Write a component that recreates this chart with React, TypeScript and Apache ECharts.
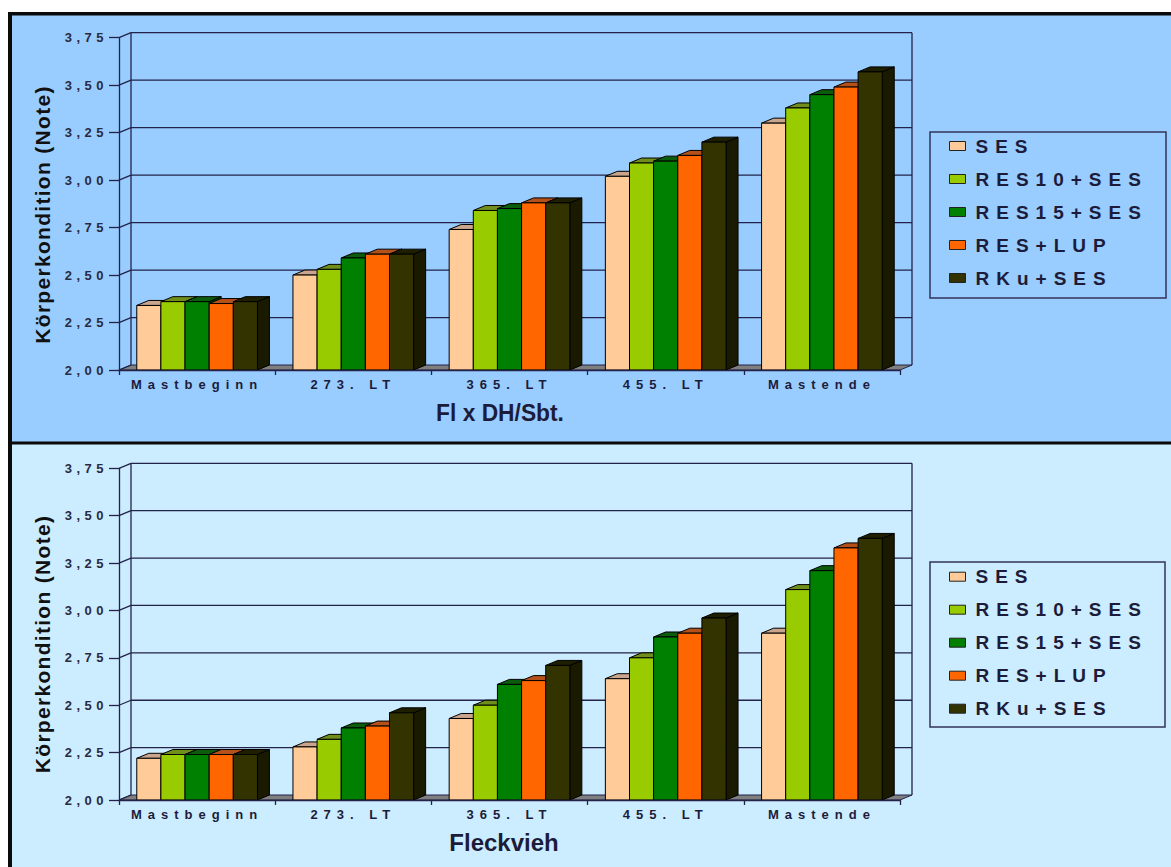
import React, { useEffect, useRef } from 'react';
import * as echarts from 'echarts';

const categories = ['Mastbeginn', '273. LT', '365. LT', '455. LT', 'Mastende'];
const seriesNames = ['SES', 'RES10+SES', 'RES15+SES', 'RES+LUP', 'RKu+SES'];
const yTicks = [2.0, 2.25, 2.5, 2.75, 3.0, 3.25, 3.5, 3.75];

// Panel 1: Fl x DH/Sbt.
const flxSES = [2.34, 2.50, 2.74, 3.02, 3.30];
const flxRES10 = [2.36, 2.53, 2.84, 3.09, 3.38];
const flxRES15 = [2.36, 2.59, 2.85, 3.10, 3.45];
const flxLUP = [2.35, 2.61, 2.88, 3.13, 3.49];
const flxRKu = [2.36, 2.61, 2.88, 3.20, 3.57];

// Panel 2: Fleckvieh
const fvSES = [2.22, 2.28, 2.43, 2.64, 2.88];
const fvRES10 = [2.24, 2.32, 2.50, 2.75, 3.11];
const fvRES15 = [2.24, 2.38, 2.61, 2.86, 3.21];
const fvLUP = [2.24, 2.39, 2.63, 2.88, 3.33];
const fvRKu = [2.24, 2.46, 2.71, 2.96, 3.38];

const panelTitles = ['Fl x DH/Sbt.', 'Fleckvieh'];
const yTitle = 'Körperkondition (Note)';

const panelData = [
  [flxSES, flxRES10, flxRES15, flxLUP, flxRKu],
  [fvSES, fvRES10, fvRES15, fvLUP, fvRKu],
];

const frontColors = ['#FFCC99', '#99CC00', '#008000', '#FF6600', '#333300'];
const topColors = ['#C8A58C', '#6F8E1C', '#0B5C0B', '#B4501A', '#1E1E00'];
const sideColors = ['#A8835F', '#5E7A00', '#004A00', '#9A3D00', '#1A1A00'];

const DX = 12;
const DY = 5;
const AXIS = '#23234a';
const FONT = '"Liberation Sans", Arial, sans-serif';

const barRender = (s: number) => (params: any, api: any) => {
  const cat = api.value(0);
  const val = api.value(1);
  const top = api.coord([cat, val]);
  const base = api.coord([cat, yTicks[0]]);
  const band = api.size([1, 0])[0];
  const bw = band * 0.1545;
  const xl = top[0] - 2.5 * bw + s * bw;
  const xr = xl + bw;
  const yt = top[1];
  const yb = base[1];
  const st = { stroke: '#000', lineWidth: 1, lineJoin: 'round' };
  return {
    type: 'group',
    children: [
      { type: 'polygon', shape: { points: [[xr, yb], [xr, yt], [xr + DX, yt - DY], [xr + DX, yb - DY]] }, style: { fill: sideColors[s], ...st } },
      { type: 'polygon', shape: { points: [[xl, yt], [xr, yt], [xr + DX, yt - DY], [xl + DX, yt - DY]] }, style: { fill: topColors[s], ...st } },
      { type: 'rect', shape: { x: xl, y: yt, width: bw, height: yb - yt }, style: { fill: frontColors[s], ...st } },
    ],
  };
};

const frameRender = (params: any, api: any) => {
  const band = api.size([1, 0])[0];
  const x0 = api.coord([0, yTicks[0]])[0] - band / 2;
  const x1 = api.coord([categories.length - 1, yTicks[0]])[0] + band / 2;
  const yb = api.coord([0, yTicks[0]])[1];
  const yt = api.coord([0, yTicks[yTicks.length - 1]])[1];
  const ls = { stroke: AXIS, lineWidth: 1.3 };
  const children: any[] = [];
  children.push({
    type: 'polygon',
    shape: { points: [[x0, yb], [x1, yb], [x1 + DX, yb - DY], [x0 + DX, yb - DY]] },
    style: { fill: '#7f7f7f', stroke: AXIS, lineWidth: 1 },
  });
  yTicks.forEach((v, i) => {
    const y = api.coord([0, v])[1];
    if (i > 0) {
      children.push({ type: 'line', shape: { x1: x0 + DX, y1: y - DY, x2: x1 + DX, y2: y - DY }, style: ls });
    }
    children.push({ type: 'line', shape: { x1: x0, y1: y, x2: x0 + DX, y2: y - DY }, style: ls });
  });
  children.push({ type: 'line', shape: { x1: x0 + DX, y1: yt - DY, x2: x0 + DX, y2: yb - DY }, style: ls });
  children.push({ type: 'line', shape: { x1: x1 + DX, y1: yt - DY, x2: x1 + DX, y2: yb - DY }, style: ls });
  return { type: 'group', children };
};

const grids = [
  { left: 119, top: 37.7, width: 781, height: 332.3 },
  { left: 119, top: 468.3, width: 781, height: 331.7 },
];

function buildOption() {
  const series: any[] = [];
  panelData.forEach((groups, gi) => {
    series.push({
      type: 'custom',
      name: 'frame' + gi,
      xAxisIndex: gi,
      yAxisIndex: gi,
      silent: true,
      z: 1,
      data: [[0, yTicks[0]]],
      renderItem: frameRender,
    });
    groups.forEach((vals, s) => {
      series.push({
        type: 'custom',
        name: seriesNames[s],
        xAxisIndex: gi,
        yAxisIndex: gi,
        z: 3,
        itemStyle: { color: frontColors[s], borderColor: '#222', borderWidth: 1 },
        encode: { x: 0, y: 1 },
        data: vals.map((v, i) => [i, v]),
        renderItem: barRender(s),
      });
    });
  });

  const xAxis = grids.map((g, i) => ({
    type: 'category',
    gridIndex: i,
    data: categories,
    boundaryGap: true,
    axisLine: { show: true, lineStyle: { color: AXIS, width: 1.3 } },
    axisTick: { show: true, length: 5, lineStyle: { color: AXIS, width: 1.3 } },
    axisLabel: { interval: 0, margin: 8, fontSize: 13, fontWeight: 'bold', color: '#1c1c3a', fontFamily: FONT },
    splitLine: { show: false },
    z: 4,
  }));
  const yAxis = grids.map((g, i) => ({
    type: 'value',
    gridIndex: i,
    min: 2,
    max: 3.75,
    interval: 0.25,
    axisLine: { show: true, lineStyle: { color: AXIS, width: 1.3 } },
    axisTick: { show: true, length: 10, lineStyle: { color: AXIS, width: 1.3 } },
    axisLabel: {
      margin: 11,
      fontSize: 13,
      fontWeight: 'bold',
      color: '#2a2a40',
      fontFamily: FONT,
      formatter: (v: number) => v.toFixed(2).replace('.', ','),
    },
    splitLine: { show: false },
  }));

  const legendTops = [136, 566.7];
  const legend = legendTops.map((t) => ({
    data: seriesNames,
    orient: 'vertical',
    left: 949,
    top: t,
    padding: 0,
    itemWidth: 16,
    itemHeight: 9,
    itemGap: 13,
    icon: 'rect',
    selectedMode: false,
    itemStyle: { borderColor: '#222', borderWidth: 1 },
    textStyle: { fontSize: 19, fontWeight: 'bold', color: '#1c1c3a', fontFamily: FONT, lineHeight: 20, padding: [0, 0, 0, 5] },
  }));

  const graphic: any[] = [
    { type: 'rect', z: -10, shape: { x: 10, y: 13, width: 1161, height: 430 }, style: { fill: '#99CCFF' } },
    { type: 'rect', z: -10, shape: { x: 10, y: 443, width: 1161, height: 424 }, style: { fill: '#CCECFF' } },
    { type: 'rect', z: 20, shape: { x: 8, y: 12, width: 4, height: 855 }, style: { fill: '#0a0a0a' } },
    { type: 'rect', z: 20, shape: { x: 8, y: 12, width: 1163, height: 3.5 }, style: { fill: '#0a0a0a' } },
    { type: 'rect', z: 20, shape: { x: 8, y: 441.5, width: 1163, height: 3 }, style: { fill: '#0a0a0a' } },
    { type: 'rect', z: 5, shape: { x: 930, y: 132, width: 236, height: 166 }, style: { fill: 'none', stroke: '#33335a', lineWidth: 1.5 } },
    { type: 'rect', z: 5, shape: { x: 930, y: 562, width: 235, height: 165 }, style: { fill: 'none', stroke: '#33335a', lineWidth: 1.5 } },
    {
      type: 'text', z: 10, x: 42, y: 214.5, rotation: Math.PI / 2,
      style: { text: yTitle, fill: '#111', font: 'bold 21px ' + FONT, textAlign: 'center', textVerticalAlign: 'middle' },
    },
    {
      type: 'text', z: 10, x: 42, y: 644, rotation: Math.PI / 2,
      style: { text: yTitle, fill: '#111', font: 'bold 21px ' + FONT, textAlign: 'center', textVerticalAlign: 'middle' },
    },
    {
      type: 'text', z: 10, x: 500, y: 413, scaleX: 0.95,
      style: { text: panelTitles[0], fill: '#1c1c3a', font: 'bold 24px ' + FONT, textAlign: 'center', textVerticalAlign: 'middle' },
    },
    {
      type: 'text', z: 10, x: 504, y: 842,
      style: { text: panelTitles[1], fill: '#1c1c3a', font: 'bold 24px ' + FONT, textAlign: 'center', textVerticalAlign: 'middle' },
    },
  ];

  return {
    animation: false,
    backgroundColor: '#ffffff',
    grid: grids,
    xAxis,
    yAxis,
    legend,
    graphic,
    series,
  };
}

function applySpacing(root: HTMLElement | null) {
  if (!root) return;
  root.querySelectorAll('text').forEach((t) => {
    const s = t.textContent || '';
    let ls: number | null = null;
    if (categories.includes(s)) ls = 6;
    else if (/^\d,\d\d$/.test(s)) ls = 4.5;
    else if (seriesNames.includes(s)) ls = 7;
    else if (s === yTitle) ls = 1.3;
    if (ls != null) t.setAttribute('letter-spacing', ls + 'px');
  });
}

export default function App() {
  const ref = useRef<HTMLDivElement>(null);
  useEffect(() => {
    if (!ref.current) return;
    const chart = echarts.init(ref.current, undefined, { renderer: 'svg' });
    chart.setOption(buildOption() as any);
    const el = ref.current;
    const apply = () => applySpacing(el);
    chart.on('finished', apply);
    apply();
    const t1 = setTimeout(apply, 50);
    const t2 = setTimeout(apply, 300);
    return () => {
      clearTimeout(t1);
      clearTimeout(t2);
      chart.dispose();
    };
  }, []);
  return (
    <div
      ref={ref}
      style={{ position: 'absolute', left: 0, top: 0, width: 1171, height: 867 }}
    />
  );
}
